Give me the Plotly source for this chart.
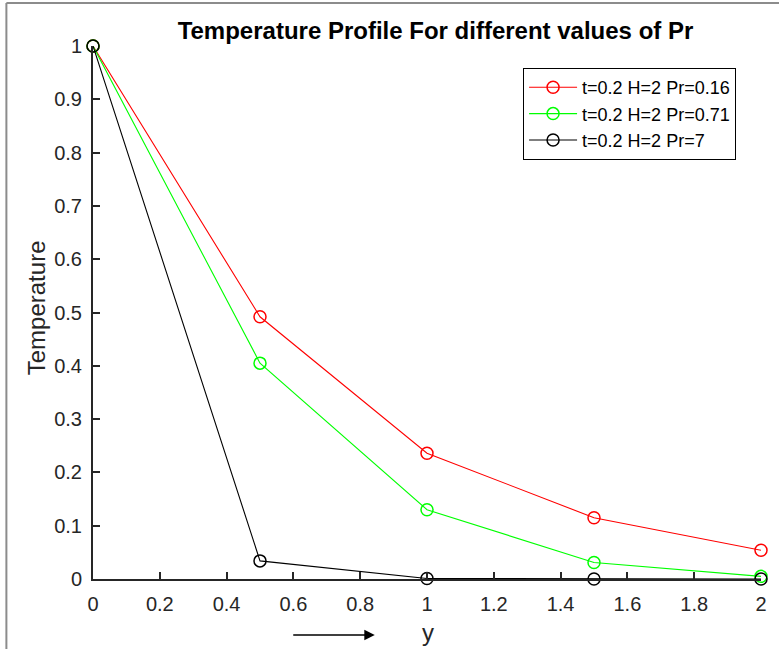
import plotly.graph_objects as go

# Temperature profiles against y for three Prandtl numbers
y_pos = [0, 0.5, 1, 1.5, 2]
temp_pr016 = [1.0, 0.492, 0.236, 0.115, 0.054]
temp_pr071 = [1.0, 0.405, 0.130, 0.031, 0.005]
temp_pr7 = [1.0, 0.034, 0.001, 0.0, 0.0]

series_names = ["t=0.2 H=2 Pr=0.16", "t=0.2 H=2 Pr=0.71", "t=0.2 H=2 Pr=7"]
series_colors = ["#ff0000", "#00ff00", "#000000"]
series_values = [temp_pr016, temp_pr071, temp_pr7]

x_ticks = [0, 0.2, 0.4, 0.6, 0.8, 1, 1.2, 1.4, 1.6, 1.8, 2]
x_tick_text = ["0", "0.2", "0.4", "0.6", "0.8", "1", "1.2", "1.4", "1.6", "1.8", "2"]
y_ticks = [0, 0.1, 0.2, 0.3, 0.4, 0.5, 0.6, 0.7, 0.8, 0.9, 1]
y_tick_text = ["0", "0.1", "0.2", "0.3", "0.4", "0.5", "0.6", "0.7", "0.8", "0.9", "1"]

W, H = 779, 649
ML, MR, MT, MB = 93, 15, 46, 70
PW, PH = W - ML - MR, H - MT - MB


def px_x(px):
    return (px - ML) / PW


def px_y(py):
    return (H - MB - py) / PH


FONT = "Liberation Sans, Arial, sans-serif"
AXIS_COL = "#262626"

fig = go.Figure()
for name, col, vals in zip(series_names, series_colors, series_values):
    fig.add_trace(go.Scatter(
        x=y_pos, y=vals, name=name, mode="lines+markers",
        line=dict(color=col, width=1.1),
        marker=dict(symbol="circle-open", size=12, color=col, line=dict(width=1.5, color=col)),
        cliponaxis=False,
    ))

axis_common = dict(
    showgrid=False, zeroline=False, showline=True, linecolor=AXIS_COL, linewidth=2,
    ticks="inside", ticklen=7, tickwidth=2, tickcolor=AXIS_COL,
    tickfont=dict(family=FONT, size=20, color=AXIS_COL),
)

fig.update_layout(
    width=W, height=H,
    margin=dict(l=ML, r=MR, t=MT, b=MB),
    paper_bgcolor="white", plot_bgcolor="white",
    title=dict(text="<b>Temperature Profile For different values of Pr</b>",
               x=px_x(437), xref="paper", xanchor="center",
               y=1 - 31 / H, yanchor="middle",
               font=dict(family=FONT, size=24, color="#000000")),
    xaxis=dict(range=[0, 2], tickvals=x_ticks, ticktext=x_tick_text,
               ticklabelstandoff=6, **axis_common),
    yaxis=dict(range=[0, 1], tickvals=y_ticks, ticktext=y_tick_text,
               ticklabelstandoff=5, **axis_common),
    showlegend=True,
    legend=dict(x=px_x(525), y=px_y(68), xanchor="left", yanchor="top",
                bgcolor="white", bordercolor="#000000", borderwidth=1,
                font=dict(family=FONT, size=18, color="#000000"),
                tracegroupgap=0, itemwidth=48),
    annotations=[
        dict(text="Temperature", xref="paper", yref="paper",
             x=px_x(36), y=px_y(308), textangle=-90, showarrow=False,
             xanchor="center", yanchor="middle",
             font=dict(family=FONT, size=24, color=AXIS_COL)),
        dict(text="y", xref="paper", yref="paper",
             x=px_x(430), y=px_y(632), showarrow=False,
             xanchor="center", yanchor="middle",
             font=dict(family=FONT, size=24, color=AXIS_COL)),
        dict(text="", xref="paper", yref="paper",
             x=px_x(376), y=px_y(635), ax=-83, ay=0,
             showarrow=True, arrowhead=2, arrowsize=1.6, arrowwidth=1.3,
             arrowcolor="#000000"),
    ],
    shapes=[
        dict(type="line", xref="paper", yref="paper",
             x0=px_x(6), x1=px_x(6), y0=px_y(3), y1=px_y(H + 5),
             line=dict(color="#8c8c8c", width=2)),
        dict(type="line", xref="paper", yref="paper",
             x0=px_x(6), x1=px_x(W + 5), y0=px_y(3), y1=px_y(3),
             line=dict(color="#8c8c8c", width=2)),
    ],
)

fig.write_html("out.html")
